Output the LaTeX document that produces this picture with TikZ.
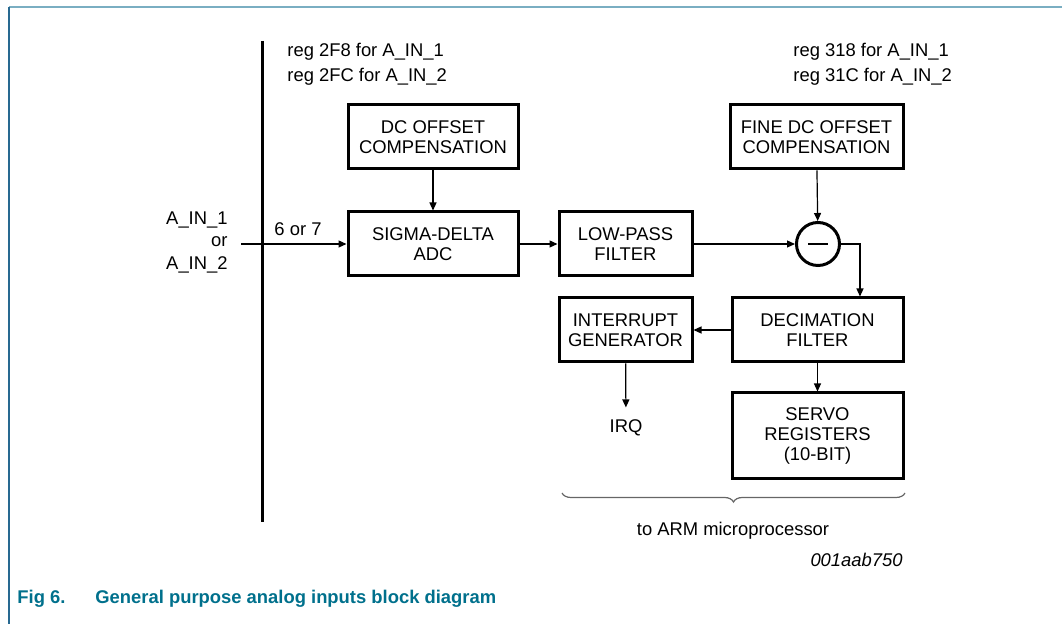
\documentclass[tikz,border=0pt]{standalone}
\usepackage{fontspec}
\setmainfont{Liberation Sans}
\usetikzlibrary{arrows.meta,decorations.pathreplacing}
\definecolor{figteal}{RGB}{0,112,140}
\definecolor{frametop}{RGB}{122,174,194}
\definecolor{frameleft}{RGB}{40,105,145}
\newcommand{\fs}{\fontsize{9.2}{10}\selectfont}
\begin{document}
\begin{tikzpicture}[x=0.5pt, y=-0.5pt,
    blk/.style={draw, line width=1.5pt, align=center, inner sep=0pt, font=\fs},
    arr/.style={-{Triangle[length=4pt,width=3.5pt]}, line width=0.6pt},
    lbl/.style={font=\fs, inner sep=0pt}]
	  \useasboundingbox (0,0) rectangle (1062,624);
	  \draw[frametop, line width=1pt] (9,7) -- (1062,7);
	  \draw[frameleft, line width=0.8pt] (9,7) -- (9,624);
	  % bus line
	  \coordinate (bustop) at (262,41);
	  \coordinate (busbot) at (262,522);
	  \draw[line width=1.5pt] (bustop) -- (busbot);
	  \node[lbl, anchor=west, align=left, font=\fontsize{9.2}{12.5}\selectfont] (regA) at (287,64.5) {reg 2F8 for A\_IN\_1\\reg 2FC for A\_IN\_2};
	  \node[lbl, anchor=west, align=left, font=\fontsize{9.2}{12.5}\selectfont] (regB) at (793,64.5) {reg 318 for A\_IN\_1\\reg 31C for A\_IN\_2};
	  % blocks
	  \node[blk, minimum width=85pt, minimum height=32pt] (dc) at (433,137) {DC OFFSET\\COMPENSATION};
	  \node[blk, minimum width=85pt, minimum height=32pt] (sigma) at (433,244) {SIGMA-DELTA\\ADC};
	  \node[blk, minimum width=66.5pt, minimum height=32pt] (lp) at (625.5,244) {LOW-PASS\\FILTER};
	  \node[blk, minimum width=86.5pt, minimum height=32pt] (fine) at (816.5,137) {FINE DC OFFSET\\COMPENSATION};
	  \node[draw, circle, line width=1.5pt, minimum size=21.5pt, inner sep=0pt] (sub) at (818,244) {};
	  \draw[line width=0.6pt] ([xshift=-5pt]sub.center) -- ([xshift=5pt]sub.center);
	  \node[blk, minimum width=85.5pt, minimum height=32pt] (decim) at (817.5,330) {DECIMATION\\FILTER};
	  \node[blk, minimum width=66.5pt, minimum height=32pt] (int) at (625.5,330) {INTERRUPT\\GENERATOR};
	  \node[blk, minimum width=85.5pt, minimum height=43pt] (servo) at (817.5,436) {SERVO\\REGISTERS\\(10-BIT)};
	  % input
	  \node[lbl, anchor=east, align=right, font=\fontsize{9.2}{11.2}\selectfont] (ain) at (228,242.5) {A\_IN\_1\\or\\A\_IN\_2};
	  \coordinate (inA) at (241,244);
	  \node[lbl] (wid) at (298,229) {6 or 7};
	  \node[lbl, inner sep=6pt] (irq) at (626,428) {IRQ};
	  % connectors
	  \draw[arr] (inA) -- (sigma.west);
	  \draw[arr] (dc) -- (sigma);
	  \draw[arr] (sigma) -- (lp);
	  \draw[arr] (lp) -- (sub);
	  \draw[arr] (fine) -- (sub);
	  \draw[arr] (sub.east) -| ([xshift=21.25pt]decim.north);
	  \draw[arr] (decim) -- (int);
	  \draw[arr] (int) -- (irq);
	  \draw[arr] (decim) -- (servo);
	  % brace
	  \coordinate (brL) at (562,493);
	  \coordinate (brR) at (905,493);
	  \draw[gray!80!black, line width=0.6pt, decorate, decoration={brace, mirror, amplitude=4.5pt}] (brL) -- (brR);
	  \node[lbl] (arm) at (733,531) {to ARM microprocessor};
	  \node[lbl, anchor=east, font=\fs\itshape] (code) at (903,560) {001aab750};
	  \node[lbl, anchor=west, text=figteal, font=\fs\bfseries] (fig) at (17,599) {Fig 6.};
	  \node[lbl, anchor=west, text=figteal, font=\fs\bfseries] (cap) at (95,599) {General purpose analog inputs block diagram};
	\end{tikzpicture}
\end{document}
